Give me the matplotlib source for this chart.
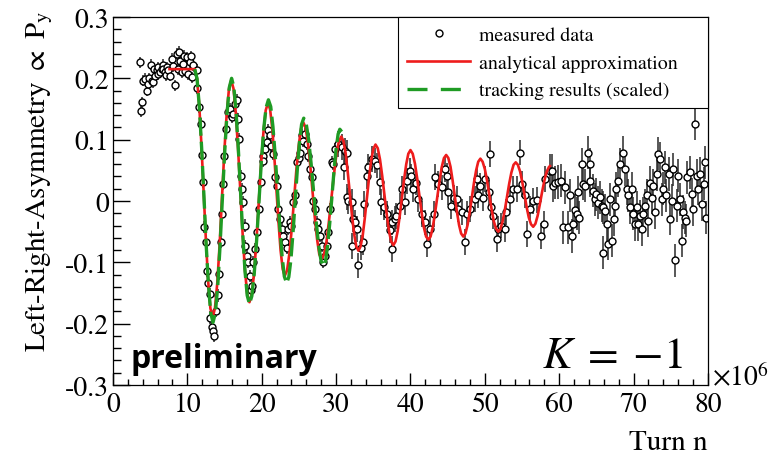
import numpy as np
import matplotlib.pyplot as plt
from matplotlib.ticker import MultipleLocator, FuncFormatter
from matplotlib.lines import Line2D

plt.rcParams['font.family'] = 'STIXGeneral'
plt.rcParams['mathtext.fontset'] = 'stix'
plt.rcParams['axes.unicode_minus'] = False

# datos medidos (turnos en 1e6), leidos a ojo de la figura
x_flat = [3.63, 3.72, 3.86, 4.08, 4.30, 4.53, 4.75, 4.90, 5.07, 5.20, 5.42, 5.50, 5.65,
          5.87, 6.00, 6.10, 6.32, 6.54, 6.70, 6.77, 6.99, 7.10, 7.22, 7.44, 7.66, 7.89,
          8.10, 8.34, 8.56, 8.78, 8.90, 9.00, 9.24, 9.45, 9.60, 9.68, 9.90, 10.13,
          10.35, 10.45, 10.58, 10.80]
y_flat = [0.226, 0.146, 0.161, 0.196, 0.199, 0.180, 0.191, 0.200, 0.222, 0.196, 0.194,
          0.215, 0.204, 0.213, 0.207, 0.218, 0.210, 0.216, 0.222, 0.215, 0.210, 0.205,
          0.218, 0.213, 0.204, 0.232, 0.220, 0.189, 0.240, 0.215, 0.243, 0.229, 0.210,
          0.224, 0.237, 0.212, 0.234, 0.207, 0.226, 0.236, 0.202, 0.221]
err_flat = 0.009

x_osc = [11.25, 11.34, 11.56, 11.79, 11.92, 12.14, 12.23, 12.46, 12.68, 12.82, 13.04,
         13.10, 13.27, 13.49, 13.58, 13.85, 14.16, 14.30, 14.48, 14.70, 14.83, 14.97,
         15.20, 15.50, 15.73, 15.96, 16.17, 16.40, 16.63, 16.85, 16.98, 17.17, 17.30,
         17.52, 17.75, 17.80, 17.98, 18.20, 18.40, 18.52, 18.65, 18.86, 19.10, 19.30,
         19.63, 19.86, 20.13, 20.20, 20.45, 20.66, 20.88, 21.10, 21.30, 21.55, 21.78,
         22.00, 22.20, 22.45, 22.70, 22.90, 23.10, 23.35, 23.57, 23.80, 24.00, 24.24,
         24.47, 24.70, 24.95, 25.14, 25.37, 25.60, 25.80, 26.04, 26.26, 26.50, 26.70,
         26.93, 27.16, 27.40, 27.60, 27.80, 28.06, 28.30, 28.50, 28.73, 28.95, 29.18,
         29.40, 29.65, 29.90]
y_osc = [0.213, 0.184, 0.154, 0.126, 0.075, 0.031, -0.043, -0.067, -0.114, -0.133,
         -0.152, -0.190, -0.205, -0.212, -0.220, -0.179, -0.154, -0.119, -0.067, -0.021,
         0.028, 0.074, 0.117, 0.145, 0.150, 0.137, 0.142, 0.158, 0.164, 0.134, 0.101,
         0.041, 0.020, -0.002, -0.040, -0.073, -0.089, -0.100, -0.122, -0.145, -0.138,
         -0.100, -0.078, -0.051, -0.013, 0.031, 0.074, 0.066, 0.085, 0.096, 0.115, 0.107,
         0.090, 0.077, 0.039, 0.025, -0.013, -0.029, -0.045, -0.057, -0.067, -0.076,
         -0.046, -0.035, -0.040, -0.002, 0.009, 0.063, 0.070, 0.079, 0.107, 0.098, 0.109,
         0.093, 0.074, 0.052, 0.039, 0.0005, -0.013, -0.035, -0.046, -0.057, -0.073,
         -0.100, -0.089, -0.073, -0.051, -0.013, 0.063, 0.060, 0.085]
err_osc = 0.01

x_mid = [30.30, 30.75, 31.00, 31.20, 31.40, 31.45, 31.60, 32.10, 32.12, 32.30, 32.50,
         32.80, 33.00, 33.40, 33.65, 33.70, 34.10, 34.30, 34.80, 35.20, 35.45, 35.90,
         36.10, 36.50, 36.80, 37.20, 37.50, 37.55, 37.90, 38.10, 38.60, 38.80, 39.26,
         39.50, 39.90, 40.10, 40.40, 40.70, 41.05, 41.50, 41.95, 42.20, 42.60, 43.10,
         43.30, 43.70, 44.20, 44.60, 44.90, 45.10, 45.50, 45.80, 46.20, 46.40, 46.90,
         47.30, 47.55, 48.00, 48.70, 48.90, 49.10, 49.35, 49.70, 50.00, 50.50, 50.70,
         50.80, 51.10, 51.60, 51.80, 52.20, 52.70, 52.90, 53.40, 53.80, 54.30, 54.70,
         54.95, 55.40, 55.60, 56.10, 56.50, 57.00, 57.60, 57.90, 58.10]
y_mid = [0.093, 0.088, 0.055, 0.082, 0.079, 0.006, 0.0005, -0.002, -0.073, -0.029,
         -0.035, -0.046, -0.105, -0.076, -0.067, -0.005, 0.041, 0.055, 0.069, 0.066,
         0.058, 0.031, -0.002, -0.010, -0.021, -0.048, -0.035, -0.078, -0.029, -0.024,
         -0.008, 0.020, -0.002, 0.033, 0.049, 0.040, 0.020, 0.030, 0.003, -0.021, -0.035,
         -0.070, -0.046, -0.021, 0.039, 0.028, 0.022, 0.052, 0.041, 0.014, -0.008, 0.005,
         0.003, -0.013, -0.018, -0.067, -0.021, -0.013, 0.003, 0.036, 0.009, 0.025,
         0.005, 0.036, 0.014, 0.077, -0.010, -0.024, -0.062, -0.046, -0.040, -0.046,
         -0.018, 0.003, 0.020, 0.020, 0.079, 0.028, 0.009, -0.054, -0.013, 0.0005, 0.002,
         -0.057, -0.038, 0.036]
err_mid = 0.021

x_late = [58.75, 59.00, 59.20, 59.40, 59.80, 60.30, 60.55, 60.80, 61.20, 61.45, 61.70,
          61.90, 62.10, 62.35, 62.55, 62.60, 63.00, 63.20, 63.50, 63.90, 64.10, 64.15,
          64.60, 64.80, 65.00, 65.20, 65.50, 65.70, 65.85, 65.90, 66.15, 66.40, 66.60,
          66.80, 67.05, 67.30, 67.50, 67.70, 67.90, 68.20, 68.60, 68.80, 69.10, 69.30,
          69.50, 69.75, 69.95, 70.20, 70.40, 70.60, 70.85, 71.10, 71.30, 71.50, 71.75,
          71.95, 72.20, 72.45, 72.65, 72.90, 73.10, 73.30, 73.55, 73.80, 74.00, 74.20,
          74.40, 74.70, 74.90, 75.10, 75.30, 75.60, 75.80, 76.00, 76.20, 76.50, 76.70,
          76.90, 77.10, 77.15, 77.55, 77.80, 78.00, 78.25, 78.50, 78.70, 78.90, 79.20,
          79.40, 79.60, 79.80]
y_late = [0.049, 0.049, 0.025, 0.030, 0.031, 0.033, -0.043, 0.022, -0.043, 0.009, -0.057,
          -0.038, -0.015, -0.021, 0.014, -0.027, 0.060, 0.028, 0.025, 0.079, 0.060, 0.033,
          0.017, 0.003, 0.011, -0.003, 0.006, -0.008, -0.084, -0.010, -0.016, -0.038,
          -0.070, 0.003, -0.065, -0.030, -0.008, 0.020, 0.033, 0.060, 0.079, 0.052, 0.020,
          0.009, -0.010, 0.020, -0.021, -0.038, -0.010, -0.038, -0.025, -0.046, -0.021,
          -0.008, 0.009, -0.032, 0.030, 0.005, 0.025, -0.018, 0.044, 0.077, 0.069, 0.003,
          0.020, 0.055, 0.009, 0.044, -0.029, 0.0005, 0.052, -0.097, -0.008, 0.041, 0.003,
          -0.065, -0.018, -0.027, -0.032, 0.039, 0.047, 0.011, -0.013, 0.126, 0.041, 0.020,
          0.044, -0.005, 0.028, 0.063, -0.027]
err_late = 0.027

# aproximacion analitica (roja)
x_ana = [7.6, 11.0, 11.3, 11.6, 11.9, 12.2, 12.5, 12.8, 13.1, 13.4,
         13.71, 14.03, 14.34, 14.65, 14.96, 15.28, 15.59, 15.9,
         16.21, 16.51, 16.82, 17.13, 17.43, 17.74, 18.04, 18.35,
         18.66, 18.98, 19.29, 19.6, 19.91, 20.23, 20.54, 20.85,
         21.13, 21.41, 21.69, 21.98, 22.26, 22.54, 22.82, 23.1,
         23.41, 23.73, 24.04, 24.35, 24.66, 24.98, 25.29, 25.6,
         25.91, 26.21, 26.52, 26.83, 27.13, 27.44, 27.74, 28.05,
         28.38, 28.71, 29.04, 29.38, 29.71, 30.04, 30.37, 30.7,
         30.99, 31.28, 31.56, 31.85, 32.14, 32.43, 32.71, 33.0,
         33.29, 33.58, 33.86, 34.15, 34.44, 34.73, 35.01, 35.3,
         35.6, 35.9, 36.2, 36.5, 36.8, 37.1, 37.4, 37.7,
         37.99, 38.28, 38.56, 38.85, 39.14, 39.43, 39.71, 40.0,
         40.3, 40.6, 40.9, 41.2, 41.5, 41.8, 42.1, 42.4,
         42.7, 43.0, 43.3, 43.6, 43.9, 44.2, 44.5, 44.8,
         45.09, 45.38, 45.66, 45.95, 46.24, 46.53, 46.81, 47.1,
         47.39, 47.68, 47.96, 48.25, 48.54, 48.83, 49.11, 49.4,
         49.7, 50.0, 50.3, 50.6, 50.9, 51.2, 51.5, 51.8,
         52.09, 52.39, 52.68, 52.98, 53.27, 53.56, 53.86, 54.15,
         54.44, 54.74, 55.03, 55.33, 55.62, 55.91, 56.21, 56.5,
         56.8, 57.1, 57.4, 57.7, 58.0, 58.3, 58.6, 58.75]
y_ana = [0.215, 0.215, 0.200, 0.156, 0.090, 0.0125, -0.065, -0.131, -0.175, -0.190,
         -0.175, -0.133, -0.071, 0.0035, 0.078, 0.140, 0.182, 0.197,
         0.183, 0.144, 0.085, 0.016, -0.053, -0.112, -0.151, -0.165,
         -0.153, -0.117, -0.065, -0.0025, 0.060, 0.112, 0.148, 0.160,
         0.149, 0.119, 0.073, 0.019, -0.035, -0.081, -0.111, -0.122,
         -0.113, -0.085, -0.045, 0.003, 0.051, 0.091, 0.118, 0.128,
         0.119, 0.095, 0.059, 0.0165, -0.026, -0.062, -0.087, -0.095,
         -0.087, -0.066, -0.033, 0.005, 0.043, 0.076, 0.097, 0.105,
         0.098, 0.078, 0.048, 0.012, -0.024, -0.054, -0.074, -0.081,
         -0.074, -0.056, -0.028, 0.0055, 0.039, 0.067, 0.085, 0.092,
         0.086, 0.068, 0.041, 0.010, -0.021, -0.048, -0.066, -0.072,
         -0.066, -0.049, -0.024, 0.0055, 0.035, 0.060, 0.077, 0.083,
         0.077, 0.061, 0.037, 0.009, -0.019, -0.043, -0.058, -0.063,
         -0.058, -0.043, -0.020, 0.006, 0.032, 0.055, 0.070, 0.075,
         0.070, 0.056, 0.034, 0.0085, -0.017, -0.039, -0.053, -0.058,
         -0.053, -0.039, -0.019, 0.0055, 0.030, 0.050, 0.064, 0.069,
         0.064, 0.052, 0.033, 0.0095, -0.013, -0.033, -0.045, -0.050,
         -0.046, -0.033, -0.015, 0.0065, 0.028, 0.046, 0.059, 0.063,
         0.059, 0.048, 0.031, 0.0105, -0.010, -0.027, -0.038, -0.042,
         -0.037, -0.024, -0.005, 0.015, 0.033, 0.047, 0.055, 0.057]

# tracking escalado (verde)
x_trk = [11.0, 11.31, 11.61, 11.92, 12.23, 12.53, 12.84, 13.14, 13.45,
         13.76, 14.08, 14.39, 14.7, 15.01, 15.33, 15.64, 15.95,
         16.25, 16.55, 16.85, 17.15, 17.45, 17.75, 18.05, 18.35,
         18.67, 18.99, 19.31, 19.63, 19.94, 20.26, 20.58, 20.9,
         21.21, 21.51, 21.82, 22.13, 22.43, 22.74, 23.04, 23.35,
         23.64, 23.93, 24.21, 24.5, 24.79, 25.08, 25.36, 25.65,
         25.98, 26.31, 26.64, 26.98, 27.31, 27.64, 27.97, 28.3,
         28.58, 28.86, 29.14, 29.43, 29.71, 29.99, 30.27, 30.5, 30.75]
y_trk = [0.215, 0.199, 0.154, 0.087, 0.0085, -0.071, -0.137, -0.182, -0.198,
         -0.183, -0.140, -0.075, 0.001, 0.077, 0.142, 0.185, 0.200,
         0.186, 0.146, 0.086, 0.016, -0.054, -0.114, -0.154, -0.168,
         -0.155, -0.119, -0.065, -0.0015, 0.062, 0.116, 0.152, 0.165,
         0.154, 0.121, 0.073, 0.0155, -0.042, -0.090, -0.123, -0.134,
         -0.124, -0.095, -0.051, 0.0005, 0.052, 0.096, 0.125, 0.135,
         0.126, 0.100, 0.061, 0.0145, -0.032, -0.071, -0.097, -0.106,
         -0.098, -0.073, -0.037, 0.0055, 0.048, 0.084, 0.109, 0.117, 0.113]

red = '#ee1c1c'
green = '#1f9b24'

fig = plt.figure(figsize=(7.78, 4.6), dpi=100)
ax = fig.add_axes([0.1452, 0.1609, 0.7648, 0.80])

pts = dict(fmt='o', ms=5, mfc='white', mec='black', mew=1.0, ecolor='#2a2a2a',
           elinewidth=1.1, capsize=0, zorder=2)
ax.errorbar(x_flat, y_flat, yerr=err_flat, **pts)
ax.errorbar(x_osc, y_osc, yerr=err_osc, **pts)
ax.errorbar(x_mid, y_mid, yerr=err_mid, **pts)
ax.errorbar(x_late, y_late, yerr=err_late, **pts)

ax.plot(x_ana, y_ana, color=red, lw=1.9, zorder=3)
ax.plot(x_trk, y_trk, color=green, lw=2.4, dashes=(5.5, 1.8), zorder=4)

ax.set_xlim(0, 80)
ax.set_ylim(-0.3, 0.3)
ax.xaxis.set_major_locator(MultipleLocator(10))
ax.xaxis.set_minor_locator(MultipleLocator(2))
ax.yaxis.set_major_locator(MultipleLocator(0.1))
ax.yaxis.set_minor_locator(MultipleLocator(0.02))
ax.yaxis.set_major_formatter(FuncFormatter(lambda v, p: '0' if abs(v) < 1e-9 else '%.1f' % v))
ax.tick_params(which='both', direction='in', top=False, right=False, width=1)
ax.tick_params(axis='y', which='major', length=12, labelsize=20, pad=3)
ax.tick_params(axis='y', which='minor', length=6)
ax.tick_params(axis='x', which='major', length=8.5, labelsize=20, pad=5)
ax.tick_params(axis='x', which='minor', length=4.5)
for s in ax.spines.values():
    s.set_linewidth(0.9)

ax.set_ylabel(r'Left-Right-Asymmetry $\propto$ P$_{\rm y}$', fontsize=21)
ax.yaxis.set_label_coords(-0.097, 0.555)
ax.text(1.0, -0.155, 'Turn n', transform=ax.transAxes, ha='right', va='center', fontsize=21)
ax.text(1.006, 0.022, r'$\times$10$^{6}$', transform=ax.transAxes, ha='left', va='center',
        fontsize=20)

ax.text(0.03, 0.049, 'preliminary', transform=ax.transAxes, ha='left', va='baseline',
        family='Open Sans', weight='bold', fontsize=23)
ax.text(0.958, 0.049, r'$K\;=\;{-1}$', transform=ax.transAxes, ha='right', va='baseline',
        fontsize=32)

handles = [Line2D([], [], ls='none', marker='o', ms=5, mfc='white', mec='black', mew=1.0),
           Line2D([], [], color=red, lw=1.9),
           Line2D([], [], color=green, lw=2.4, dashes=(6.0, 4.0))]
labels = ['measured data', 'analytical approximation', 'tracking results (scaled)']
leg = ax.legend(handles, labels, loc='upper right', bbox_to_anchor=(0.479, 0.758, 0.521, 0.242),
                mode='expand', borderaxespad=0, fancybox=False, edgecolor='black',
                framealpha=1, fontsize=14.3, handlelength=3.2, handletextpad=0.45,
                labelspacing=0.5, borderpad=0.45)
leg.get_frame().set_linewidth(0.8)

fig.savefig('out.png', dpi=100)
